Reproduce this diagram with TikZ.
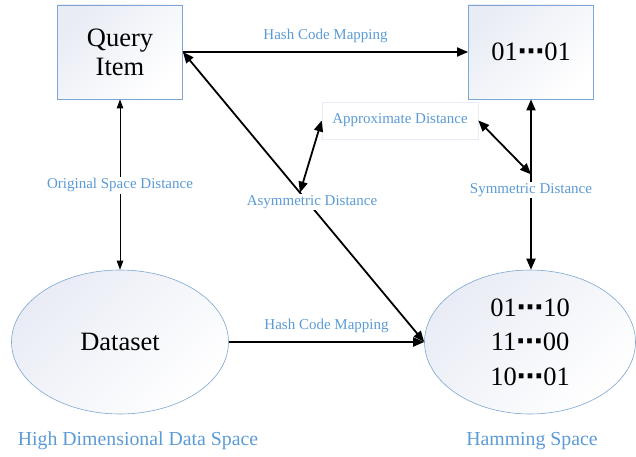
\documentclass[tikz,border=0pt]{standalone}
\usepackage{fontspec}
\setmainfont{Liberation Serif}
\newfontfamily\dotfont{DejaVu Sans}
\usetikzlibrary{shapes.geometric,calc,arrows.meta}
\definecolor{lblue}{HTML}{5B9BD5}
\definecolor{bord}{HTML}{7DA6D2}
\definecolor{shd}{HTML}{E9ECF5}
\definecolor{faint}{HTML}{E8ECF5}
\newcommand{\dd}{{\dotfont\bfseries ⋯}}
\tikzset{
  sqbox/.style={draw=bord, line width=0.8pt, top color=shd, bottom color=white, shading angle=45,
    minimum width=125pt, minimum height=94pt, align=center, font=\fontsize{26.5}{29}\selectfont, inner sep=0pt},
  ell/.style={ellipse, draw=bord, line width=0.6pt, top color=shd, bottom color=white, shading angle=45,
    align=center, font=\fontsize{26.5}{30}\selectfont, inner sep=0pt},
  lbl/.style={text=lblue, font=\fontsize{15}{17}\selectfont, inner sep=1.5pt},
  big/.style={text=lblue, font=\fontsize{19.8}{22}\selectfont},
  thick arr/.style={line width=1.8pt, -{Triangle[length=11pt,width=9pt]}},
  thick dbl/.style={line width=1.8pt, {Triangle[length=11pt,width=9pt]}-{Triangle[length=11pt,width=9pt]}},
  thin dbl/.style={line width=0.9pt, {Triangle[length=9pt,width=6.5pt]}-{Triangle[length=9pt,width=6.5pt]}},
}
\begin{document}
\begin{tikzpicture}[x=1pt,y=1pt]
\useasboundingbox (0,0) rectangle (636,456);
\node[sqbox] (q) at (120,404) {Query\\Item};
\node[sqbox] (c) at (531,404) {01\dd01};
\node[draw=faint, line width=0.6pt, fill=white, minimum width=156pt, minimum height=37pt, inner sep=0pt, lbl] (a) at (400,335.5) {Approximate Distance};
\node[ell, minimum width=217pt, minimum height=144pt] (d) at (120,114) {Dataset};
\node[ell, minimum width=211pt, minimum height=144pt, font=\fontsize{26.5}{34.5}\selectfont] (h) at (530,114) {01\dd10\\11\dd00\\10\dd01};
\node[big] (t1) at (138,15) {High Dimensional Data Space};
\node[big] (t2) at (532,15) {Hamming Space};

\draw[thin dbl] (q.south) -- (d.north) node[lbl, fill=white, pos=0.505] {Original Space Distance};
\draw[thick arr] (q.east) -- (c.west) node[lbl, midway, yshift=16pt] {Hash Code Mapping};
\draw[thick arr] (d.east) -- (h.west) node[lbl, midway, yshift=16pt] {Hash Code Mapping};
\draw[thick dbl] (q.east) -- (h.west);
\coordinate (j) at ($(q.east)!0.485!(h.west)$);
\node[lbl, fill=white] (al) at (312,254) {Asymmetric Distance};
\draw[thick dbl] (j) -- (a.west);
\draw[thick dbl] (c.south) -- (c.south |- h.north) node[lbl, fill=white, pos=0.53] {Symmetric Distance};
\coordinate (k) at ($(c.south)!0.44!(c.south |- h.north)$);
\draw[thick dbl] (k) -- (a.east);
\end{tikzpicture}
\end{document}
